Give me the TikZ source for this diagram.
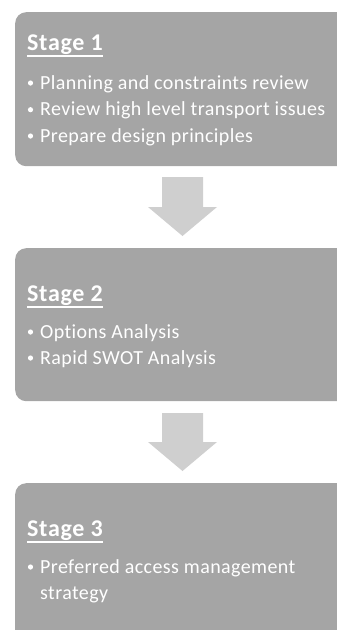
\documentclass[tikz,border=0pt]{standalone}
\usepackage{fontspec}
\setmainfont[Ligatures=NoCommon]{Carlito}
\newfontfamily\itemfont[Ligatures=NoCommon, LetterSpace=2]{Carlito}
\newfontfamily\titlefont[Ligatures=NoCommon, LetterSpace=3]{Carlito}
\usetikzlibrary{calc}
\definecolor{boxgray}{HTML}{A5A5A5}
\definecolor{arrowgray}{HTML}{CFCFCF}
\tikzset{
  stagebox/.style={fill=boxgray, draw=none, rounded corners=11pt, anchor=north west, minimum width=345pt, inner sep=0pt},
  title/.style={text=white, font=\titlefont\fontsize{24}{28}\selectfont\bfseries, anchor=base west, inner sep=0pt},
  item/.style={text=white, font=\itemfont\fontsize{20}{24}\selectfont, anchor=base west, inner sep=0pt},
  dot/.style={fill=white, draw=none, circle, inner sep=0pt, minimum size=5.2pt},
  underl/.style={white, line width=1.5pt},
  blockarrow/.style={fill=arrowgray, draw=none}
}
\begin{document}
\begin{tikzpicture}[x=1pt,y=-1pt]
\useasboundingbox (0,0) rectangle (337,630);
\clip (0,0) rectangle (337,630);
% boxes
\node[stagebox, minimum height=154pt] (b1) at (15,12) {};
\node[stagebox, minimum height=153pt] (b2) at (15,248) {};
\node[stagebox, minimum height=160pt] (b3) at (15,483) {};
% arrows
\fill[blockarrow] (162,177) -- (203,177) -- (203,207) -- (217,207) -- (182.5,236) -- (148,207) -- (162,207) -- cycle;
\fill[blockarrow] (162,413) -- (203,413) -- (203,442) -- (217,442) -- (182.5,471) -- (148,442) -- (162,442) -- cycle;
% stage 1
\node[title] (t1) at (27,50.5) {Stage 1};
\draw[underl] ($(t1.base west)+(0,5.3)$) -- ($(t1.base east)+(0,5.3)$);
\node[dot] (d11) at (30.5,83) {};
\node[item] (i11) at (40,89) {Planning and constraints review};
\node[dot] (d12) at (30.5,109.7) {};
\node[item] (i12) at (40,115.7) {Review high level transport issues};
\node[dot] (d13) at (30.5,136) {};
\node[item] (i13) at (40,142) {Prepare design principles};
% stage 2
\node[title] (t2) at (27,301.5) {Stage 2};
\draw[underl] ($(t2.base west)+(0,5.3)$) -- ($(t2.base east)+(0,5.3)$);
\node[dot] (d21) at (30.5,332) {};
\node[item] (i21) at (40,338) {Options Analysis};
\node[dot] (d22) at (30.5,358) {};
\node[item] (i22) at (40,364) {Rapid SWOT Analysis};
% stage 3
\node[title] (t3) at (27,536.5) {Stage 3};
\draw[underl] ($(t3.base west)+(0,5.3)$) -- ($(t3.base east)+(0,5.3)$);
\node[dot] (d31) at (30.5,567) {};
\node[item] (i31) at (40,573) {Preferred access management};
\node[item] (i32) at (40,599) {strategy};
\end{tikzpicture}
\end{document}
